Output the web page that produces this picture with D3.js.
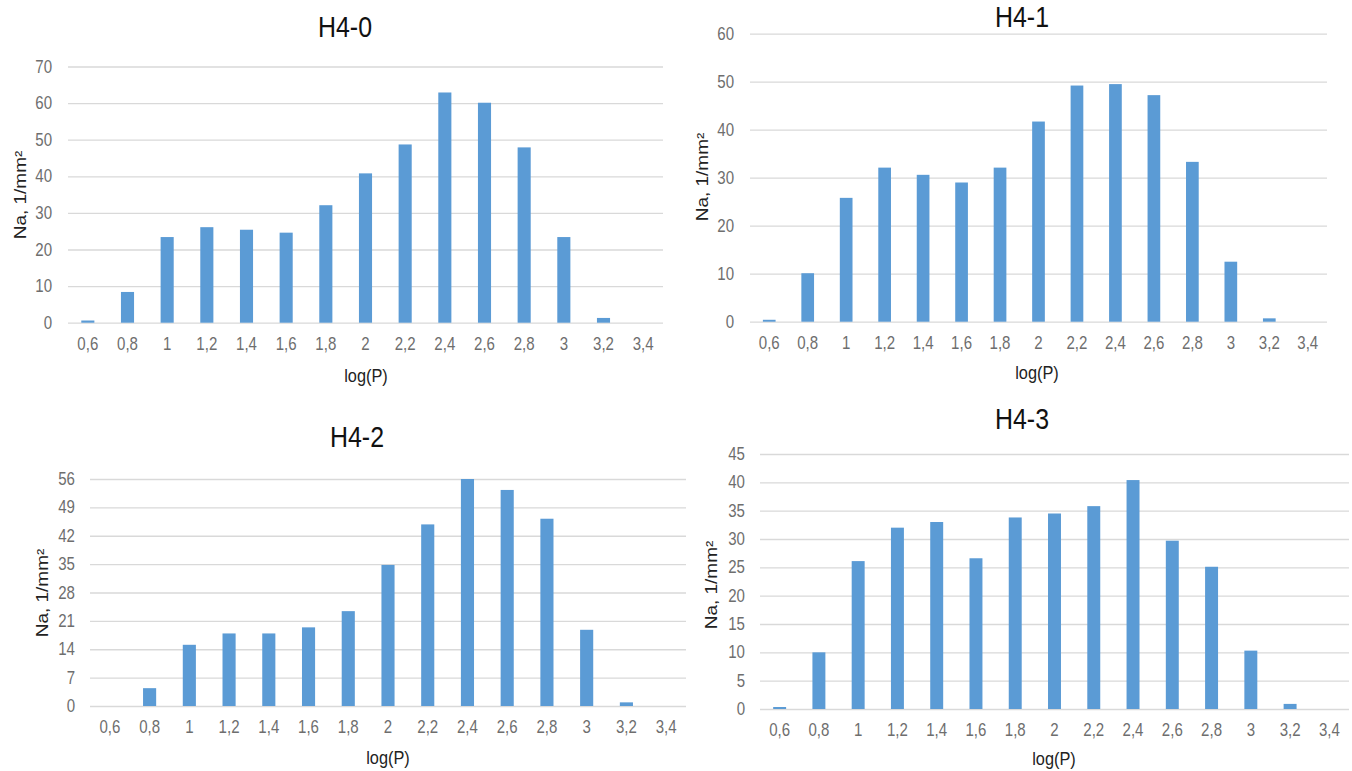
<!DOCTYPE html>
<html>
<head>
<meta charset="utf-8">
<script src="https://cdn.jsdelivr.net/npm/d3@7"></script>
<style>
  html, body { margin: 0; padding: 0; background: #fff; }
  svg { display: block; }
  text { font-family: "Liberation Sans", Arial, sans-serif; }
</style>
</head>
<body>
<div id="chart"></div>
<script>
// categories on the x axis (log P)
const categories = ['0,6', '0,8', '1', '1,2', '1,4', '1,6', '1,8', '2', '2,2', '2,4', '2,6', '2,8', '3', '3,2', '3,4']

// Na, 1/mm² for each sample
const h40 = [0.6, 8.4, 23.4, 26.1, 25.4, 24.6, 32.1, 40.8, 48.7, 62.9, 60.1, 47.9, 23.4, 1.3, 0]
const h41 = [0.4, 10.1, 25.8, 32.1, 30.6, 29.0, 32.1, 41.7, 49.2, 49.5, 47.2, 33.3, 12.5, 0.7, 0]
const h42 = [0, 4.4, 15.1, 17.9, 17.9, 19.4, 23.4, 34.8, 44.8, 56.0, 53.3, 46.2, 18.8, 0.9, 0]
const h43 = [0.35, 10.0, 26.1, 32.0, 33.0, 26.6, 33.8, 34.5, 35.8, 40.4, 29.7, 25.1, 10.3, 0.9, 0]

// y tick labels
const ticks40 = [0, 10, 20, 30, 40, 50, 60, 70]
const ticks41 = [0, 10, 20, 30, 40, 50, 60]
const ticks42 = [0, 7, 14, 21, 28, 35, 42, 49, 56]
const ticks43 = [0, 5, 10, 15, 20, 25, 30, 35, 40, 45]

const titles = ['H4-0', 'H4-1', 'H4-2', 'H4-3']

// the source picture is squeezed horizontally, draw wider and squeeze with viewBox
const SX = 0.86
const width = 1352; const height = 771

const svg = d3.select('#chart').append('svg')
  .attr('width', width).attr('height', height)
  .attr('viewBox', '0 0 ' + (width / SX) + ' ' + height)
  .attr('preserveAspectRatio', 'none')

const panels = [
  { title: titles[0], values: h40, ticks: ticks40, left: 68, right: 663, top: 66.5, bottom: 322.7, labelX: 52,
    titleX: 345, titleY: 37, yTitleX: 20, yTitleY: 195, xTitleX: 366, xTitleY: 382 },
  { title: titles[1], values: h41, ticks: ticks41, left: 750, right: 1327, top: 33.7, bottom: 321.7, labelX: 734,
    titleX: 1022, titleY: 27, yTitleX: 702, yTitleY: 177, xTitleX: 1037, xTitleY: 379 },
  { title: titles[2], values: h42, ticks: ticks42, left: 90, right: 686, top: 479, bottom: 706, labelX: 75,
    titleX: 357, titleY: 447, yTitleX: 42, yTitleY: 593, xTitleX: 388, xTitleY: 764 },
  { title: titles[3], values: h43, ticks: ticks43, left: 760, right: 1349, top: 454, bottom: 709, labelX: 745,
    titleX: 1022, titleY: 429, yTitleX: 711, yTitleY: 585, xTitleX: 1054, xTitleY: 765 }
]

panels.forEach(p => {
  const g = svg.append('g')

  const x = d3.scaleBand()
    .domain(categories)
    .range([p.left / SX, p.right / SX])
    .paddingInner(0.67)
    .paddingOuter(0.335)

  const y = d3.scaleLinear()
    .domain([0, d3.max(p.ticks)])
    .range([p.bottom, p.top])

  // gridlines
  g.append('g')
    .attr('transform', 'translate(' + (p.left / SX) + ',0)')
    .call(d3.axisLeft(y).tickValues(p.ticks).tickSize(-(p.right - p.left) / SX).tickFormat(''))
    .call(a => a.select('.domain').remove())
    .selectAll('line')
    .attr('stroke', '#d9d9d9')
    .attr('stroke-width', 1.3)

  // y tick labels
  g.append('g')
    .attr('font-size', 17.5)
    .attr('transform', 'translate(' + (p.left / SX) + ',0)')
    .call(d3.axisLeft(y).tickValues(p.ticks).tickSize(0).tickPadding((p.left - p.labelX) / SX))
    .attr('font-size', 17.5)
    .call(a => a.select('.domain').remove())
    .selectAll('text')
    .attr('fill', '#6e6e6e')

  // bars
  g.selectAll('rect')
    .data(p.values)
    .enter()
    .append('rect')
    .attr('x', (d, i) => x(categories[i]))
    .attr('width', x.bandwidth())
    .attr('y', d => y(d))
    .attr('height', d => y(0) - y(d))
    .attr('fill', '#5b9bd5')

  // x axis labels
  g.append('g')
    .attr('transform', 'translate(0,' + p.bottom + ')')
    .call(d3.axisBottom(x).tickSize(0).tickPadding(15))
    .attr('font-size', 17.5)
    .call(a => a.select('.domain').remove())
    .selectAll('text')
    .attr('fill', '#6e6e6e')

  // titles
  g.append('text')
    .attr('x', p.titleX / SX).attr('y', p.titleY)
    .attr('text-anchor', 'middle')
    .style('font-size', '29px')
    .attr('fill', '#111')
    .text(p.title)

  g.append('text')
    .attr('transform', 'translate(' + (p.yTitleX / SX) + ',' + p.yTitleY + ') rotate(-90)')
    .attr('text-anchor', 'middle')
    .attr('dy', '0.35em')
    .style('font-size', '19px')
    .attr('fill', '#222')
    .text('Na, 1/mm²')

  g.append('text')
    .attr('x', p.xTitleX / SX).attr('y', p.xTitleY)
    .attr('text-anchor', 'middle')
    .style('font-size', '19px')
    .attr('fill', '#222')
    .text('log(P)')
})
</script>
</body>
</html>
